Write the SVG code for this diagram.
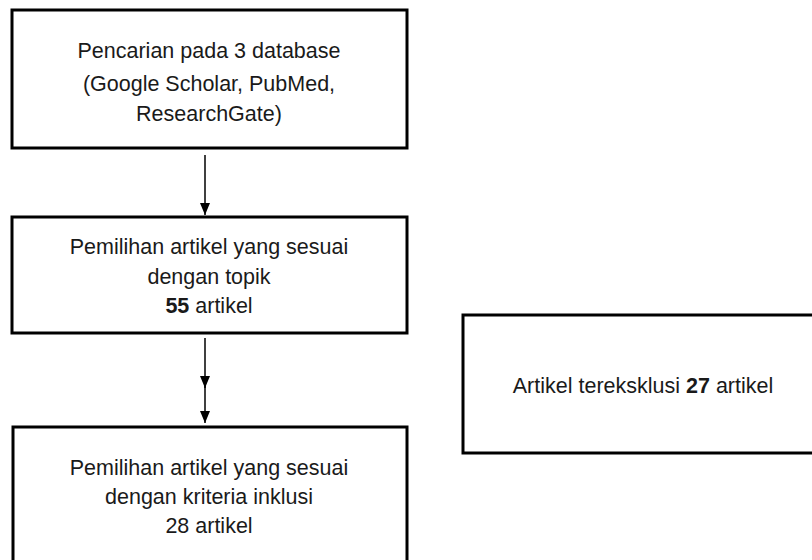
<svg xmlns="http://www.w3.org/2000/svg" width="812" height="560" viewBox="0 0 812 560">
<style>
.box{fill:#fff;stroke:#000;stroke-width:3}
.t{font-family:"Liberation Sans","Noto Sans",sans-serif;font-size:21.5px;fill:#1a1a1a;text-anchor:middle}
.b{font-weight:bold}
.c{stroke:#000;stroke-width:1.5;fill:none}
</style>
<defs>
<marker id="ah" markerWidth="14" markerHeight="12" refX="12" refY="5" orient="auto" markerUnits="userSpaceOnUse">
<path d="M0,0 L12,5 L0,10 Z" fill="#000"/>
</marker>
</defs>
<g id="connectors">
<line class="c" x1="205" y1="155" x2="205" y2="215" marker-end="url(#ah)"/>
<line class="c" x1="205" y1="338" x2="205" y2="388" marker-end="url(#ah)"/>
<line class="c" x1="205" y1="385" x2="205" y2="423" marker-end="url(#ah)"/>
</g>
<g id="n1">
<rect class="box" x="12" y="10" width="395" height="138"/>
<text class="t" x="209" y="58">Pencarian pada 3 database</text>
<text class="t" x="209" y="91">(Google Scholar, PubMed,</text>
<text class="t" x="209" y="121">ResearchGate)</text>
</g>
<g id="n2">
<rect class="box" x="12" y="217" width="395" height="116"/>
<text class="t" x="209" y="254">Pemilihan artikel yang sesuai</text>
<text class="t" x="209" y="284">dengan topik</text>
<text class="t" x="209" y="313"><tspan class="b">55</tspan> artikel</text>
</g>
<g id="n3">
<rect class="box" x="13" y="427" width="394" height="150"/>
<text class="t" x="209" y="475">Pemilihan artikel yang sesuai</text>
<text class="t" x="209" y="504">dengan kriteria inklusi</text>
<text class="t" x="209" y="533">28 artikel</text>
</g>
<g id="n4">
<rect class="box" x="463" y="315" width="370" height="138"/>
<text class="t" x="643" y="393">Artikel tereksklusi <tspan class="b">27</tspan> artikel</text>
</g>
</svg>
